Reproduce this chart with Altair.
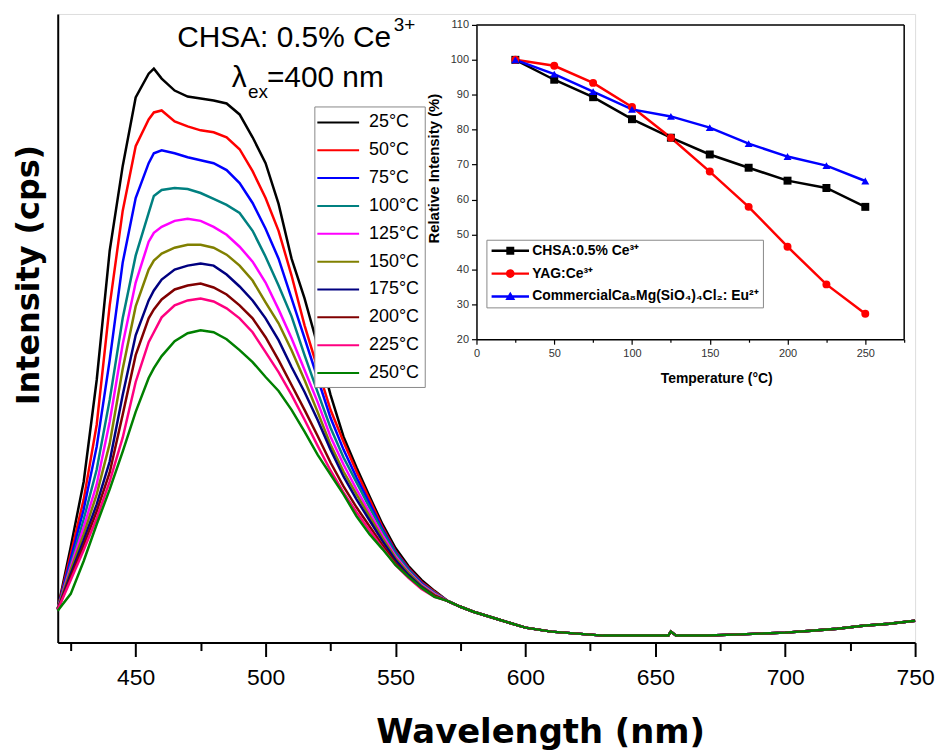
import altair as alt
import pandas as pd

# ---------------- main spectra ----------------
W_HEAD = [420, 425, 430, 435, 440, 445, 450, 455, 457, 460, 465, 470, 475, 480, 485,
          490, 495, 500, 505, 510, 515, 520, 525, 530, 535, 540, 545, 550, 555, 560, 565]
W_TAIL = [570, 575, 580, 590, 600, 610, 620, 630, 640, 650, 655, 656, 658, 670, 680,
          690, 700, 710, 720, 730, 740, 750]
TAIL = [42, 36, 31, 23, 15, 11, 9, 7, 7, 7, 7, 11, 7, 7, 8, 9, 10, 12, 14, 17, 19, 22]

TEMP_LABELS = ["25°C", "50°C", "75°C", "100°C", "125°C", "150°C", "175°C", "200°C", "225°C", "250°C"]
COLORS = ["#000000", "#FF0000", "#0000FF", "#008080", "#FF00FF", "#808000", "#000080", "#800000", "#FF0080", "#008000"]

I_25 = [34, 96, 162, 264, 394, 479, 548, 572, 577, 567, 555, 549, 547, 545, 542, 531, 508, 482, 441, 386, 346, 299, 249, 207, 176, 147, 119, 95, 77, 63, 52]
I_50 = [34, 89, 144, 219, 339, 434, 499, 526, 533, 535, 524, 519, 515, 513, 508, 496, 474, 447, 414, 369, 319, 276, 234, 202, 172, 144, 116, 92, 75, 61, 51]
I_75 = [34, 84, 134, 197, 284, 382, 447, 482, 492, 495, 492, 488, 485, 482, 475, 462, 442, 416, 386, 346, 306, 266, 226, 194, 166, 140, 114, 91, 74, 60, 50]
I_100 = [34, 79, 124, 174, 244, 326, 389, 432, 449, 455, 457, 456, 452, 446, 440, 432, 414, 388, 359, 328, 289, 252, 216, 186, 161, 136, 112, 90, 73, 59, 50]
I_125 = [34, 76, 116, 159, 222, 300, 362, 403, 412, 418, 424, 426, 424, 418, 410, 398, 383, 362, 335, 306, 274, 242, 207, 179, 154, 131, 108, 87, 71, 58, 49]
I_150 = [34, 73, 109, 149, 200, 275, 338, 375, 384, 391, 397, 400, 400, 397, 390, 379, 364, 342, 321, 294, 264, 232, 199, 172, 149, 127, 105, 85, 70, 57, 48]
I_175 = [33, 69, 103, 139, 182, 249, 309, 344, 354, 365, 375, 379, 381, 379, 370, 358, 344, 326, 304, 277, 252, 224, 194, 167, 144, 123, 102, 83, 68, 56, 47]
I_200 = [33, 66, 98, 132, 171, 229, 289, 326, 335, 345, 355, 359, 361, 357, 350, 339, 326, 307, 284, 259, 234, 208, 181, 157, 136, 117, 98, 80, 66, 55, 47]
I_225 = [33, 63, 93, 125, 162, 206, 262, 302, 312, 327, 339, 344, 346, 343, 336, 326, 312, 292, 272, 249, 224, 198, 173, 151, 131, 113, 95, 78, 65, 54, 46]
I_250 = [32, 49, 82, 119, 154, 192, 232, 266, 276, 288, 303, 311, 314, 312, 305, 294, 282, 267, 253, 234, 212, 189, 169, 149, 127, 109, 94, 78, 66, 55, 46]
HEADS = [I_25, I_50, I_75, I_100, I_125, I_150, I_175, I_200, I_225, I_250]

# ---------------- inset ----------------
T = [25, 50, 75, 100, 125, 150, 175, 200, 225, 250]
CHSA = [100, 94.3, 89.3, 83.0, 77.7, 72.9, 69.1, 65.4, 63.3, 57.9]
YAG = [100, 98.3, 93.4, 86.5, 77.7, 68.0, 57.9, 46.5, 35.7, 27.3]
COMM = [100, 95.9, 90.9, 85.8, 83.8, 80.6, 76.0, 72.3, 69.7, 65.3]
SERIES = ["CHSA:0.5% Ce³⁺", "YAG:Ce³⁺", "CommercialCa₈Mg(SiO₄)₄Cl₂: Eu²⁺"]
S_COLORS = ["#000000", "#FF0000", "#0000FF"]
S_SHAPES = ["square", "circle", "triangle-up"]
LEG_PATHS = [
    "M-4.7,-0.3H4.7V0.3H-4.7ZM-1,-1H1V1H-1Z",
    "M-4.7,-0.3H4.7V0.3H-4.7ZM1.1,0A1.1,1.1 0 1 1 -1.1,0A1.1,1.1 0 1 1 1.1,0Z",
    "M-4.7,-0.3H4.7V0.3H-4.7ZM0,-1.2L1.25,0.9H-1.25Z",
]

rows = []
for lab, head in zip(TEMP_LABELS, HEADS):
    for w, v in zip(W_HEAD + W_TAIL, head + TAIL):
        rows.append({"wl": w, "I": v, "temp": lab})
main_df = pd.DataFrame(rows)

irows = []
for name, vals in zip(SERIES, [CHSA, YAG, COMM]):
    for t, v in zip(T, vals):
        irows.append({"T": t, "RI": v, "series": name})
inset_df = pd.DataFrame(irows)
one = pd.DataFrame({"k": [0]})

# ---------------- main layer ----------------
x_main = alt.X("wl:Q", scale=alt.Scale(domain=[420, 750], nice=False, zero=False),
               axis=alt.Axis(orient="bottom", values=list(range(425, 751, 25)),
                             labelExpr="datum.value % 50 == 0 ? datum.label : ''",
                             tickSize={"condition": {"test": "datum.value % 50 == 0", "value": 14}, "value": 8},
                             tickWidth=2, tickColor="black", domainColor="black", domainWidth=2,
                             labelFont="Liberation Sans", labelFontSize=23, labelColor="black",
                             labelPadding=10, labelFlush=False, labelOverlap=False, grid=False,
                             title="Wavelength (nm)", titleFont="DejaVu Sans", titleFontSize=34,
                             titleFontWeight="bold", titleColor="black", titleX=485, titleY=100,
                             titleAlign="center", titleBaseline="alphabetic"))
y_main = alt.Y("I:Q", scale=alt.Scale(domain=[0, 632], nice=False, zero=False),
               axis=alt.Axis(orient="left", ticks=False, labels=False, grid=False,
                             domainColor="black", domainWidth=2,
                             title="Intensity (cps)", titleFont="DejaVu Sans", titleFontSize=32,
                             titleFontWeight="bold", titleColor="black", titleX=-29, titleY=262,
                             titleAngle=270, titleAlign="center", titleBaseline="middle"))

main_leg = alt.Legend(orient="none", legendX=258, legendY=93, title=None,
                      symbolType="M-2.1,0H2.1", symbolSize=400, symbolStrokeWidth=2,
                      labelFont="Liberation Sans", labelFontSize=18, labelColor="black",
                      labelOffset=20, symbolOffset=8, rowPadding=8, padding=5,
                      strokeColor="#888888", fillColor="white")

lines = alt.Chart(main_df).mark_line(strokeWidth=2.5).encode(
    x=x_main, y=y_main,
    color=alt.Color("temp:N", scale=alt.Scale(domain=TEMP_LABELS, range=COLORS), legend=main_leg),
)

def txt(s, x, y, size):
    return alt.Chart(one).mark_text(text=s, font="Liberation Sans", fontSize=size, align="left",
                                    baseline="alphabetic", color="black").encode(
        x=alt.datum(x), y=alt.datum(y))

main = alt.layer(
    lines,
    txt("CHSA: 0.5% Ce", 466, 599, 30),
    txt("3+", 549.3, 615, 19),
    txt("λ", 487.0, 559, 30),
    txt("ex", 493.2, 548, 19),
    txt("=400 nm", 500.5, 559, 30),
)

# ---------------- inset layer ----------------
x_in = alt.X("T:Q", scale=alt.Scale(domain=[0, 275], range=[421, 851], nice=False, zero=False),
             axis=alt.Axis(orient="bottom", offset=-305, values=list(range(0, 276, 25)),
                           labelExpr="datum.value % 50 == 0 && datum.value <= 250 ? datum.label : ''",
                           tickSize={"condition": {"test": "datum.value % 50 == 0", "value": 5}, "value": 3},
                           tickWidth=1.2, tickColor="black", domainColor="black", domainWidth=1.5,
                           labelFont="Liberation Sans", labelFontSize=11, labelColor="#333333",
                           labelPadding=3, labelFlush=False, labelOverlap=False, grid=False,
                           title="Temperature (°C)", titleFont="Liberation Sans", titleFontSize=14,
                           titleFontWeight="bold", titleColor="black", titleX=662, titleY=44,
                           titleBaseline="alphabetic", titleAlign="center"))
y_in = alt.Y("RI:Q", scale=alt.Scale(domain=[20, 110], range=[327, 11], nice=False, zero=False),
             axis=alt.Axis(orient="left", offset=-421, values=list(range(20, 111, 5)),
                           labelExpr="datum.value % 10 == 0 ? datum.label : ''",
                           tickSize={"condition": {"test": "datum.value % 10 == 0", "value": 5}, "value": 3},
                           tickWidth=1.2, tickColor="black", domainColor="black", domainWidth=1.5,
                           labelFont="Liberation Sans", labelFontSize=11, labelColor="#333333",
                           labelPadding=3, labelOverlap=False, grid=False,
                           title="Relative Intensity (%)", titleFont="Liberation Sans", titleFontSize=15,
                           titleFontWeight="bold", titleColor="black", titleX=-43, titleY=155,
                           titleAngle=270, titleAlign="center", titleBaseline="middle"))

s_color = alt.Scale(domain=SERIES, range=S_COLORS)
in_lines = alt.Chart(inset_df).mark_line(strokeWidth=2.5).encode(
    x=x_in, y=y_in, color=alt.Color("series:N", scale=s_color, legend=None))
in_pts = alt.Chart(inset_df).mark_point(filled=True, size=64, opacity=1).encode(
    x="T:Q", y="RI:Q",
    color=alt.Color("series:N", scale=s_color, legend=None),
    shape=alt.Shape("series:N", scale=alt.Scale(domain=SERIES, range=S_SHAPES), legend=None))
frame_top = alt.Chart(one).mark_rule(color="black", strokeWidth=1.5).encode(
    x=alt.datum(0), x2=alt.datum(275), y=alt.datum(110))
frame_right = alt.Chart(one).mark_rule(color="black", strokeWidth=1.5).encode(
    x=alt.datum(275), y=alt.datum(20), y2=alt.datum(110))
inset = alt.layer(in_lines, in_pts, frame_top, frame_right)

in_leg = alt.Legend(orient="none", legendX=431, legendY=227, title=None, symbolSize=64,
                    labelFont="Liberation Sans", labelFontSize=14, labelFontWeight="bold",
                    labelColor="black", labelOffset=15, symbolOffset=13, rowPadding=9,
                    padding=4, strokeColor="#888888", fillColor="white", labelLimit=400)
in_legend = alt.Chart(inset_df).transform_filter("false").mark_point(
    filled=True, size=64, opacity=1).encode(
    x=alt.value(0), y=alt.value(0),
    color=alt.Color("series:N", scale=alt.Scale(domain=SERIES, range=S_COLORS), legend=in_leg),
    shape=alt.Shape("series:N", scale=alt.Scale(domain=SERIES, range=LEG_PATHS), legend=in_leg))

chart = alt.layer(main, inset, in_legend).resolve_scale(
    x="independent", y="independent", color="independent", shape="independent"
).properties(
    width=862, height=632,
    padding={"left": 50, "top": 4, "right": 20, "bottom": 106},
    autosize=alt.AutoSizeParams(type="none"),
).configure_view(stroke="black", strokeWidth=2).configure(background="white")

chart.save("out.html", embed_options={"renderer": "svg", "actions": False})
